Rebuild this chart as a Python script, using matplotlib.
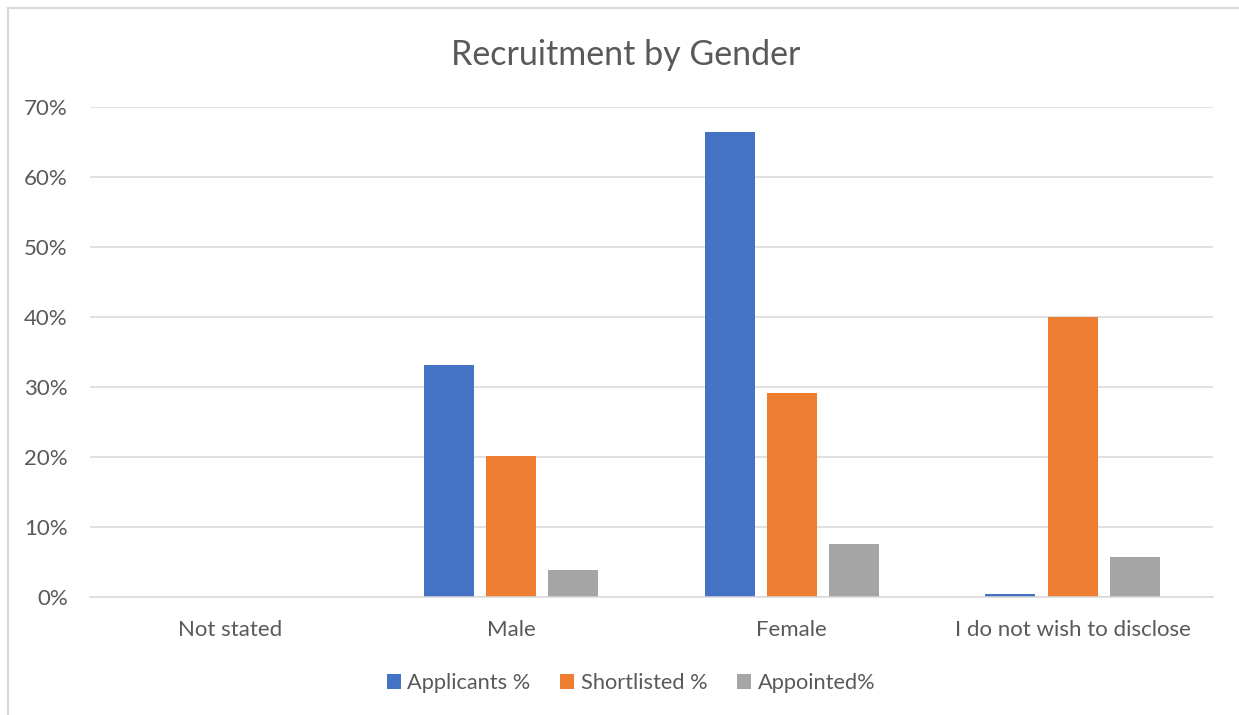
import matplotlib
matplotlib.use("Agg")
import matplotlib.pyplot as plt
from matplotlib.lines import Line2D
from matplotlib.ticker import FuncFormatter
import numpy as np

categories = ["Not stated", "Male", "Female", "I do not wish to disclose"]
series_names = ["Applicants %", "Shortlisted %", "Appointed%"]
applicants = [0.0, 33.1, 66.5, 0.4]
shortlisted = [0.0, 20.1, 29.1, 40.0]
appointed = [0.0, 3.9, 7.6, 5.7]
colors = ["#4472C4", "#ED7D31", "#A5A5A5"]
yticks = [0, 10, 20, 30, 40, 50, 60, 70]

plt.rcParams['font.family'] = ['Lato', 'DejaVu Sans']
text_color = "#595959"
grid_color = "#D9D9D9"

fig = plt.figure(figsize=(12.39, 7.15), dpi=100)
ax = fig.add_axes([90/1239, 1-597/715, (1213-90)/1239, (597-107)/715])

x = np.arange(len(categories))
width = 0.178
step = 0.2217
for i, (vals, name, c) in enumerate(zip([applicants, shortlisted, appointed], series_names, colors)):
    ax.bar(x + (i-1)*step, vals, width=width, color=c, label=name, zorder=3)

ax.set_xlim(-0.5, len(categories)-0.5)
ax.set_ylim(0, 70)
ax.set_yticks(yticks)
ax.yaxis.set_major_formatter(FuncFormatter(lambda v, p: f"{int(v)}%"))
ax.set_xticks(x)
ax.set_xticklabels(categories)
ax.tick_params(axis='both', length=0, colors=text_color, labelsize=16)
ax.tick_params(axis='y', pad=16)
ax.tick_params(axis='x', pad=16.5)
ax.grid(axis='y', color=grid_color, linewidth=1.1, zorder=0)
for s in ['top', 'right', 'left']:
    ax.spines[s].set_visible(False)
ax.spines['bottom'].set_color(grid_color)
ax.spines['bottom'].set_linewidth(1.1)
ax.spines['bottom'].set_zorder(4)

fig.text(626/1239, 1-55/715, "Recruitment by Gender", ha='center', va='center',
         fontsize=24.5, color=text_color)

leg = fig.legend(loc='center', bbox_to_anchor=(631/1239, 1-683/715), ncol=3,
                 frameon=False, fontsize=15.7, handlelength=0.65, handleheight=0.65,
                 handletextpad=0.3, columnspacing=1.35)
for t in leg.get_texts():
    t.set_color(text_color)

# outer chart border (left and top)
fig.add_artist(Line2D([8/1239, 8/1239], [0, 1-8/715], transform=fig.transFigure,
                      color=grid_color, linewidth=1.5))
fig.add_artist(Line2D([8/1239, 1], [1-8/715, 1-8/715], transform=fig.transFigure,
                      color=grid_color, linewidth=1.5))

fig.savefig("out.png", dpi=100)
